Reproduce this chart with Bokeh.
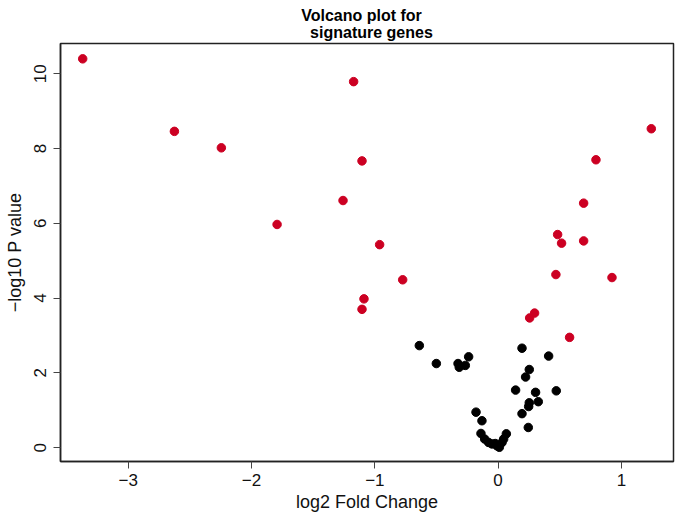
from bokeh.plotting import figure
from bokeh.models import Title, FixedTicker
from bokeh.embed import file_html
from bokeh.resources import INLINE

# Significant genes (red)
sig_fc = [-3.37, -2.626, -2.245, -1.172, -1.258, -1.793, -1.104, -0.961, -0.774,
          -1.088, -1.104, 1.243, 0.794, 0.694, 0.483, 0.515, 0.694, 0.469, 0.924,
          0.296, 0.256, 0.580]
sig_p = [10.40, 8.46, 8.02, 9.79, 6.61, 5.97, 7.67, 5.43, 4.49,
         3.98, 3.70, 8.53, 7.70, 6.54, 5.70, 5.47, 5.53, 4.63, 4.55,
         3.60, 3.47, 2.95]

# Non-significant genes (black)
ns_fc = [-0.639, -0.501, -0.325, -0.315, -0.266, -0.239, 0.194, 0.410, 0.253, 0.223,
         0.142, 0.304, 0.472, 0.326, 0.253, 0.248, 0.194, 0.245, -0.179, -0.131,
         -0.139, -0.109, -0.077, -0.050, -0.009, 0.010, 0.032, 0.045, 0.067, -0.023]
ns_p = [2.73, 2.25, 2.25, 2.15, 2.20, 2.43, 2.66, 2.45, 2.09, 1.89,
        1.54, 1.48, 1.52, 1.23, 1.20, 1.10, 0.91, 0.54, 0.95, 0.72,
        0.38, 0.23, 0.14, 0.10, 0.05, 0.01, 0.14, 0.23, 0.37, 0.11]

x_ticks = [-3, -2, -1, 0, 1]
y_ticks = [0, 2, 4, 6, 8, 10]

FONT = "Liberation Sans"

p = figure(width=676, height=516, output_backend="svg", toolbar_location=None,
           x_range=(-3.55, 1.423), y_range=(-0.37, 10.81),
           min_border_left=60, min_border_right=3, min_border_top=43, min_border_bottom=55)
p.background_fill_color = "white"
p.border_fill_color = "white"
p.grid.visible = False
p.outline_line_color = "#222222"
p.outline_line_width = 1.5

title = Title(text="Volcano plot for\n\u00a0\u00a0signature genes", align="center",
              vertical_align="top",
              text_font=FONT, text_font_size="16px", text_font_style="bold",
              text_color="black", standoff=0, text_line_height=1.05)
p.add_layout(title, "above")
p.title.visible = False

p.scatter(ns_fc, ns_p, size=8.5, color="black")
p.scatter(sig_fc, sig_p, size=8.5, color="#CC0022")

for ax in (p.xaxis[0], p.yaxis[0]):
    ax.axis_line_color = "#222222"
    ax.axis_line_width = 1.5
    ax.major_tick_line_color = "#444444"
    ax.major_tick_line_width = 1
    ax.major_tick_in = 0
    ax.major_tick_out = 7
    ax.minor_tick_line_color = None
    ax.major_label_text_font = FONT
    ax.major_label_text_font_size = "17px"
    ax.major_label_text_color = "#111111"
    ax.axis_label_text_font = FONT
    ax.axis_label_text_font_size = "18px"
    ax.axis_label_text_font_style = "normal"
    ax.axis_label_text_color = "#111111"

p.xaxis.ticker = FixedTicker(ticks=x_ticks)
p.yaxis.ticker = FixedTicker(ticks=y_ticks)
p.xaxis.major_label_overrides = {t: str(t).replace("-", "\u2212") for t in x_ticks}
p.yaxis.major_label_overrides = {t: str(t) for t in y_ticks}
p.yaxis.major_label_orientation = "vertical"
p.xaxis.axis_label = "log2 Fold Change"
p.yaxis.axis_label = "\u2212log10 P value"
p.xaxis.major_label_standoff = 5
p.yaxis.major_label_standoff = 7
p.xaxis.axis_label_standoff = 3
p.yaxis.axis_label_standoff = 7

open("out.html", "w").write(file_html(p, INLINE))
